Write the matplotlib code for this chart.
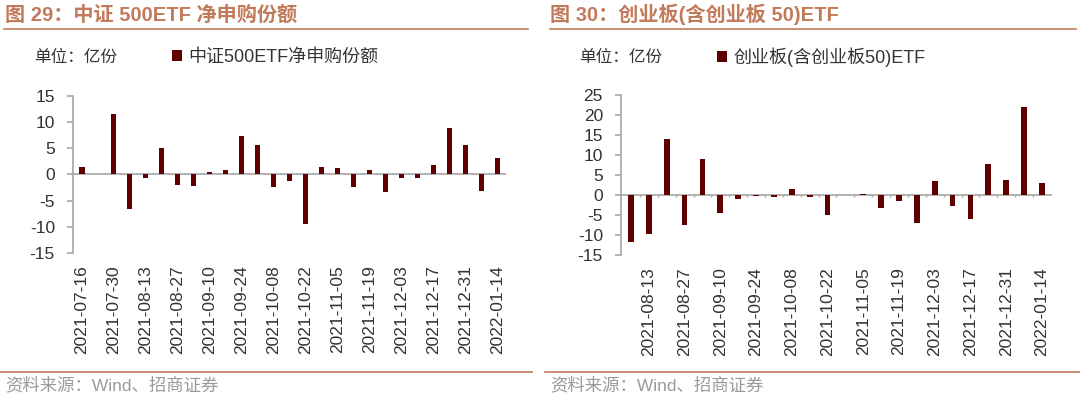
import matplotlib.pyplot as plt
import numpy as np
from matplotlib.lines import Line2D

plt.rcParams['font.family'] = ['Liberation Sans', 'Noto Sans CJK SC', 'DejaVu Sans']
plt.rcParams['axes.unicode_minus'] = False

# ---------------------------------------------------------------------------
# Data (亿份, weekly)
# ---------------------------------------------------------------------------
dates_500 = [
    "2021-07-16", "2021-07-23", "2021-07-30", "2021-08-06", "2021-08-13",
    "2021-08-20", "2021-08-27", "2021-09-03", "2021-09-10", "2021-09-17",
    "2021-09-24", "2021-10-01", "2021-10-08", "2021-10-15", "2021-10-22",
    "2021-10-29", "2021-11-05", "2021-11-12", "2021-11-19", "2021-11-26",
    "2021-12-03", "2021-12-10", "2021-12-17", "2021-12-24", "2021-12-31",
    "2022-01-07", "2022-01-14",
]
flow_500 = [
    1.5, 0.0, 11.5, -6.6, -0.7, 5.0, -2.0, -2.2, 0.5, 0.9,
    7.3, 5.6, -2.4, -1.3, -9.5, 1.5, 1.3, -2.4, 0.9, -3.4,
    -0.7, -0.7, 1.8, 8.9, 5.7, -3.1, 3.1,
]

dates_cyb = dates_500[3:]
flow_cyb = [
    -11.8, -9.8, 14.0, -7.5, 9.1, -4.6, -1.0, -0.3, -0.6, 1.6,
    -0.5, -5.0, 0.0, 0.2, -3.2, -1.5, -7.1, 3.6, -2.8, -6.0,
    7.8, 3.8, 22.1, 3.0,
]

BAR_COLOR = "#5E0000"
ACCENT = "#C27B5A"
AXIS_GRAY = "#A6A6A6"
TEXT_DARK = "#333333"


def draw_panel(fig, rect, dates, values, ylim, yticks, label_start, title,
               legend_label, title_x, line_x, legend_x, minor_ticks=False):
    ax = fig.add_axes(rect)
    x = np.arange(len(values))
    bars = ax.bar(x, values, width=0.32, color=BAR_COLOR, zorder=3,
                  label=legend_label)
    ax.axhline(0, color=AXIS_GRAY, linewidth=1.2, zorder=2)
    if minor_ticks:
        # small tick marks between categories on the zero line
        ax.vlines(x[:-1] + 0.5, 0, -0.55, color=AXIS_GRAY, linewidth=1.0,
                  zorder=2)
    ax.set_xlim(-0.56, len(values) - 0.44)
    ax.set_ylim(*ylim)
    ax.set_yticks(yticks)
    ax.set_xticks(x[label_start::2])
    ax.set_xticklabels(dates[label_start::2], rotation=90, fontsize=12.5,
                       color=TEXT_DARK)
    ax.tick_params(axis="x", length=0, pad=9)
    ax.tick_params(axis="y", labelsize=12.5, colors=AXIS_GRAY, length=4,
                   width=1.2, pad=9, labelcolor=TEXT_DARK)
    for side in ["top", "right", "bottom"]:
        ax.spines[side].set_visible(False)
    ax.spines["left"].set_color(AXIS_GRAY)
    ax.spines["left"].set_linewidth(1.2)

    # header
    fig.text(title_x, 0.963, title, fontsize=14.5, fontweight="bold",
             color=ACCENT, va="center", ha="left")
    fig.add_artist(Line2D([line_x[0], line_x[1]], [0.928, 0.928],
                          color=ACCENT, linewidth=1.2))
    fig.text(title_x + 0.027, 0.857, "单位：亿份", fontsize=12,
             color=TEXT_DARK, va="center", ha="left")
    fig.legend(handles=[bars], loc="center left",
               bbox_to_anchor=(legend_x, 0.857), frameon=False, fontsize=13,
               handlelength=0.55, handleheight=0.55, handletextpad=0.35,
               borderaxespad=0, borderpad=0, labelcolor=TEXT_DARK)

    # footer
    fig.add_artist(Line2D([line_x[0] - 0.004, line_x[1] + 0.004],
                          [0.068, 0.068], color=ACCENT, linewidth=1.2))
    fig.text(title_x, 0.036, "资料来源：Wind、招商证券", fontsize=12.5,
             color="#9A9A9A", va="center", ha="left")
    return ax


fig = plt.figure(figsize=(10.8, 3.99), dpi=100)

draw_panel(fig, [0.0676, 0.366, 0.401, 0.3935], dates_500, flow_500,
           (-15, 15), np.arange(-15, 16, 5), 0,
           "图 29：中证 500ETF 净申购份额", "中证500ETF净申购份额",
           0.005, (0.004, 0.489), 0.159)

draw_panel(fig, [0.575, 0.361, 0.399, 0.401], dates_cyb, flow_cyb,
           (-15, 25), np.arange(-15, 26, 5), 1,
           "图 30：创业板(含创业板 50)ETF", "创业板(含创业板50)ETF",
           0.509, (0.509, 0.996), 0.664, minor_ticks=True)

fig.savefig("out.png", dpi=100, facecolor="white")
